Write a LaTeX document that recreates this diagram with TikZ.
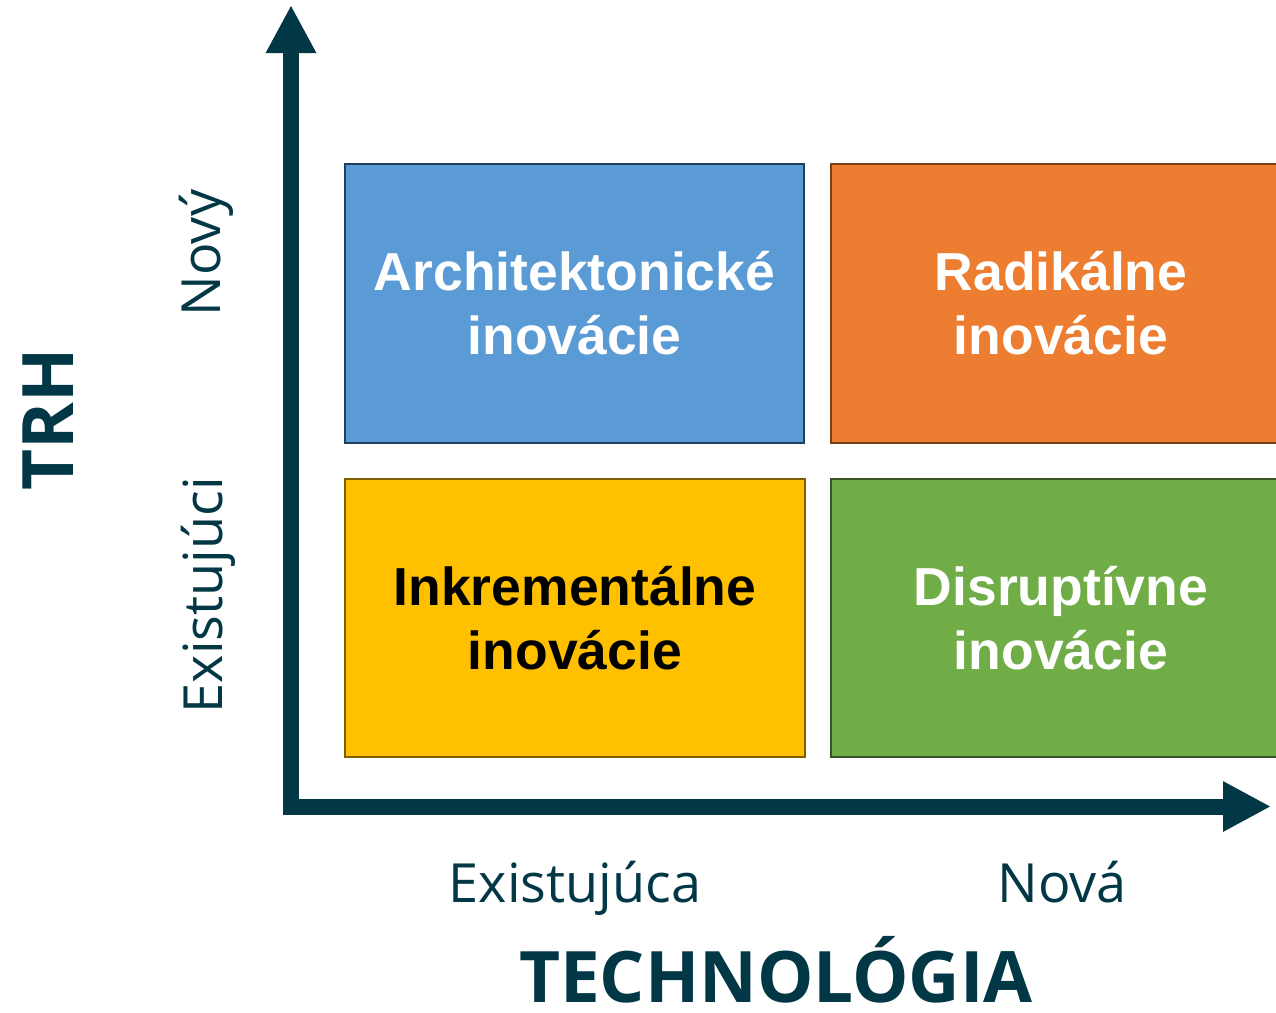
\documentclass[tikz,border=0pt]{standalone}
\usepackage{fontspec}
\setmainfont{Open Sans}
\newfontfamily\axisfont{Open Sans}
\newfontfamily\boxfont{Liberation Sans}
\usetikzlibrary{arrows.meta}

\definecolor{axisdark}{RGB}{2,55,69}
\definecolor{archfill}{HTML}{5B9BD5}
\definecolor{archline}{RGB}{33,62,92}
\definecolor{radfill}{HTML}{ED7D31}
\definecolor{radline}{RGB}{120,62,20}
\definecolor{incfill}{HTML}{FFC000}
\definecolor{incline}{RGB}{125,95,0}
\definecolor{disfill}{HTML}{70AD47}
\definecolor{disline}{RGB}{55,85,35}

\tikzset{
  quad/.style={draw, line width=2.5pt, minimum width=459pt, minimum height=279pt,
    inner sep=0pt, align=center, font=\boxfont\bfseries\fontsize{53.5}{64}\selectfont},
  axisline/.style={draw=axisdark, line width=16pt, line join=miter},
  ticklabel/.style={text=axisdark, inner sep=0pt, font=\axisfont\fontsize{54}{64}\selectfont},
  axistitle/.style={text=axisdark, inner sep=0pt, font=\axisfont\bfseries\fontsize{71}{80}\selectfont}
}

\begin{document}
\begin{tikzpicture}[x=1pt,y=-1pt]
  \clip (0,0) rectangle (1276,1012);
  \fill[white] (0,0) rectangle (1276,1012);

  % the four quadrants
  \node[quad, fill=archfill, draw=archline, text=white] (arch) at (574.5,303.5)
    {Architektonické\\inovácie};
  \node[quad, fill=radfill, draw=radline, text=white, minimum width=460pt] (rad) at (1061,303.5)
    {Radikálne\\inovácie};
  \node[quad, fill=incfill, draw=incline, text=black, minimum width=460pt, minimum height=278pt] (inc) at (575,618)
    {Inkrementálne\\inovácie};
  \node[quad, fill=disfill, draw=disline, text=white, minimum width=460pt, minimum height=278pt] (dis) at (1061,618)
    {Disruptívne\\inovácie};

  % axes
  \coordinate (ytip) at (291,5);
  \coordinate (origin) at (291,806.5);
  \coordinate (xtip) at (1271,806.5);
  \draw[axisline, -{Triangle[length=48pt,width=47pt]}] (origin) -- (ytip);
  \draw[axisline, -{Triangle[length=48pt,width=47pt]}] (origin) -- (xtip);
  \draw[axisline] (291,760) -- (origin) -- (340,806.5);

  % axis labels
  \node[ticklabel, anchor=base] (texist) at (575,902) {Existujúca};
  \node[ticklabel, anchor=base] (tnew) at (1062,902) {Nová};
  \node[ticklabel, anchor=base, rotate=90] (mnew) at (220,253) {Nový};
  \node[ticklabel, anchor=base, rotate=90] (mexist) at (222,595) {Existujúci};

  \node[axistitle, anchor=base] (tech) at (776,1002) {TECHNOLÓGIA};
  \node[axistitle, anchor=base, rotate=90] (market) at (73,419) {TRH};
\end{tikzpicture}
\end{document}
